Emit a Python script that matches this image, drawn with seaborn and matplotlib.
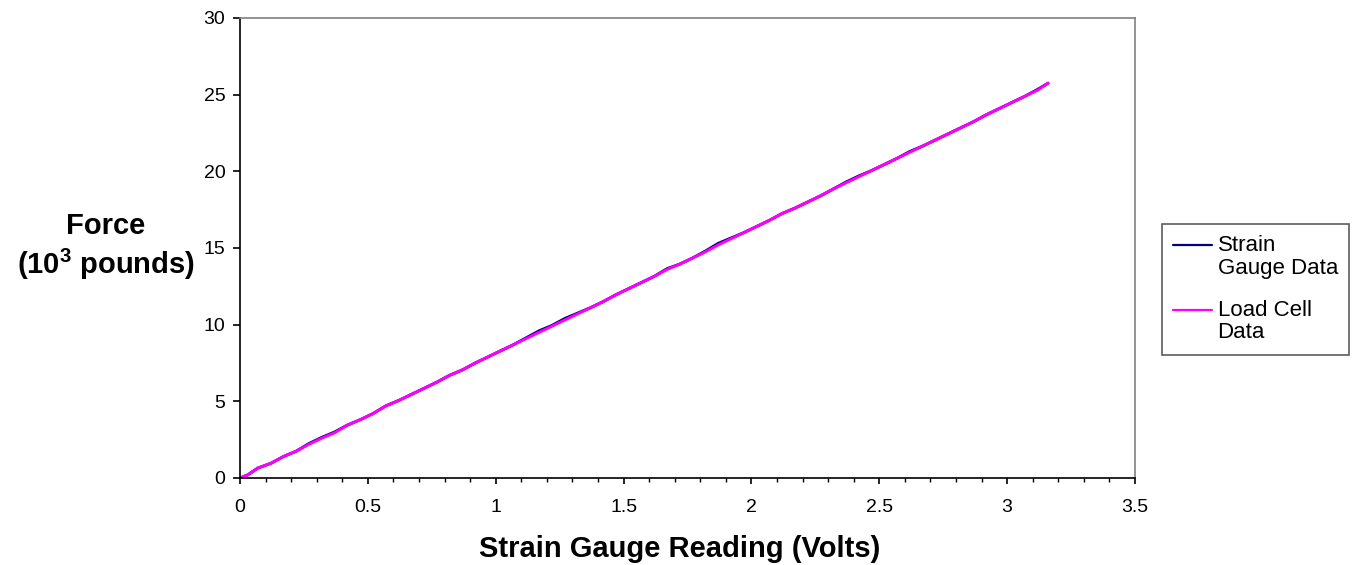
import numpy as np
import pandas as pd
import seaborn as sns
import matplotlib.pyplot as plt
from matplotlib.ticker import MultipleLocator

# readings (volts) and force (10^3 lb)
volts = [0.00, 0.03, 0.07, 0.12, 0.17, 0.22, 0.27, 0.32, 0.37, 0.42, 0.47, 0.52,
         0.57, 0.62, 0.67, 0.72, 0.77, 0.82, 0.87, 0.92, 0.97, 1.02, 1.07, 1.12,
         1.17, 1.22, 1.27, 1.32, 1.37, 1.42, 1.47, 1.52, 1.57, 1.62, 1.67, 1.72,
         1.77, 1.82, 1.87, 1.92, 1.97, 2.02, 2.07, 2.12, 2.17, 2.22, 2.27, 2.32,
         2.37, 2.42, 2.47, 2.52, 2.57, 2.62, 2.67, 2.72, 2.77, 2.82, 2.87, 2.92,
         2.97, 3.02, 3.07, 3.12, 3.16]
strain_gauge = [0.0, 0.2, 0.65, 0.95, 1.4, 1.75, 2.25, 2.65, 3.0, 3.45, 3.8, 4.2,
                4.7, 5.05, 5.45, 5.85, 6.25, 6.7, 7.05, 7.5, 7.9, 8.3, 8.7, 9.15,
                9.6, 9.95, 10.4, 10.75, 11.1, 11.5, 11.95, 12.35, 12.75, 13.15, 13.65, 13.95,
                14.35, 14.8, 15.3, 15.65, 16.0, 16.4, 16.8, 17.25, 17.6, 18.0, 18.4, 18.85,
                19.3, 19.7, 20.05, 20.45, 20.85, 21.3, 21.65, 22.05, 22.45, 22.85, 23.25, 23.7,
                24.1, 24.5, 24.9, 25.35, 25.75]
load_cell = [0.0, 0.2, 0.65, 0.95, 1.4, 1.75, 2.2, 2.6, 2.95, 3.45, 3.8, 4.2,
             4.7, 5.05, 5.45, 5.85, 6.25, 6.7, 7.05, 7.5, 7.9, 8.3, 8.7, 9.1,
             9.5, 9.9, 10.3, 10.7, 11.1, 11.5, 11.95, 12.35, 12.75, 13.15, 13.6, 13.95,
             14.35, 14.75, 15.2, 15.6, 16.0, 16.4, 16.8, 17.25, 17.6, 18.0, 18.4, 18.85,
             19.25, 19.65, 20.05, 20.45, 20.85, 21.25, 21.65, 22.05, 22.45, 22.85, 23.25, 23.7,
             24.1, 24.5, 24.9, 25.3, 25.75]

series_names = ['Strain\nGauge Data', 'Load Cell\nData']
series_colors = ['#000080', '#FF00FF']

df = pd.DataFrame({
    'volts': volts * 2,
    'force': strain_gauge + load_cell,
    'series': [series_names[0]] * len(volts) + [series_names[1]] * len(volts),
})

sns.set_style('white')
plt.rcParams['font.family'] = ['Liberation Sans', 'DejaVu Sans']
plt.rcParams['text.color'] = 'black'
plt.rcParams['mathtext.fontset'] = 'custom'
plt.rcParams['mathtext.rm'] = 'Liberation Sans'
plt.rcParams['mathtext.bf'] = 'Liberation Sans:bold'

fig = plt.figure(figsize=(13.56, 5.65), dpi=100)
ax = fig.add_axes([240 / 1356, 1 - 478 / 565, (1135 - 240) / 1356, (478 - 18) / 565])

sns.lineplot(data=df, x='volts', y='force', hue='series', palette=series_colors,
             linewidth=2.1, ax=ax, legend=False, sort=False)

ax.set_xlim(0, 3.5)
ax.set_ylim(0, 30)
ax.set_xticks(np.arange(0, 3.51, 0.5))
ax.set_xticklabels(['0', '0.5', '1', '1.5', '2', '2.5', '3', '3.5'])
ax.xaxis.set_minor_locator(MultipleLocator(0.1))
ax.set_yticks(np.arange(0, 31, 5))
ax.tick_params(axis='x', which='major', direction='out', length=4.5, width=1.2,
               colors='black', labelsize=14, bottom=True, pad=10.5)
ax.tick_params(axis='x', which='minor', direction='out', length=3, width=1.0,
               colors='black', bottom=True)
ax.tick_params(axis='y', which='major', direction='out', length=5, width=1.2,
               colors='black', labelsize=14, left=True, pad=5.5)

for side in ['left', 'bottom']:
    ax.spines[side].set_color('black')
    ax.spines[side].set_linewidth(1.2)
for side in ['top', 'right']:
    ax.spines[side].set_color('#808080')
    ax.spines[side].set_linewidth(1.2)

ax.set_xlabel('Strain Gauge Reading (Volts)', fontsize=21, fontweight='bold',
              labelpad=14, color='black')
ax.xaxis.label.set_x((680 - 240) / 895)
ax.set_ylabel('')
fig.text(106 / 1356, 1 - 247 / 565, 'Force\n(10$^{\\mathbf{3}}$ pounds)', fontsize=21,
         fontweight='bold', ha='center', va='center', linespacing=1.25, color='black')

handles = [plt.Line2D([], [], color=c, lw=1.6) for c in series_colors]
leg = fig.legend(handles, series_names, loc='upper left',
                 bbox_to_anchor=(1162 / 1356, 1 - 224 / 565), fontsize=16,
                 frameon=True, fancybox=False, edgecolor='#333333', handlelength=1.75,
                 handletextpad=0.25, labelspacing=0.95, borderpad=0.5, borderaxespad=0)
leg.get_frame().set_linewidth(1.2)
for t in leg.get_texts():
    t.set_linespacing(1.1)
    t.set_color('black')
# move the handles up to the first text line
for ln in leg.get_lines():
    ln.set_ydata(np.asarray(ln.get_ydata()) + 8.5)

fig.savefig('out.png', dpi=100, facecolor='white')
